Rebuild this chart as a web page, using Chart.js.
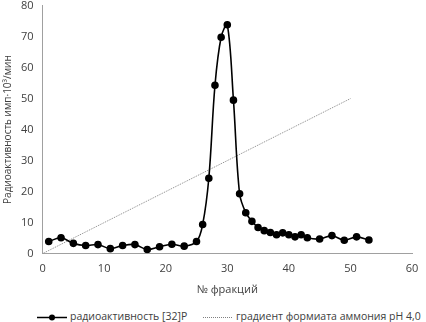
<!DOCTYPE html>
<html>
<head>
<meta charset="utf-8">
<script src="https://cdn.jsdelivr.net/npm/chart.js@4.4.1/dist/chart.umd.min.js"></script>
<style>
  body { margin: 0; background: #fff; }
  #wrap { position: relative; width: 426px; height: 322px; overflow: hidden; }
  #chart { position: absolute; left: 0; top: -6px; }
  .legend { position: absolute; top: 309px; font: 10.5px "Open Sans", sans-serif; color: #404040; white-space: nowrap; }
  .legend .sym { display: inline-block; width: 30px; height: 10px; vertical-align: middle; margin-right: 3px; }
  .legend .sym canvas { display: block; }
</style>
</head>
<body>
<div id="wrap">
  <canvas id="chart" width="426" height="306"></canvas>
  <div class="legend" style="left:37px"><span class="sym" id="sym1"></span>радиоактивность [32]P</div>
  <div class="legend" style="left:203px"><span class="sym" id="sym2"></span>градиент формиата аммония pH 4,0</div>
</div>
<script>
// fraction numbers and radioactivity (imp*10^3/min)
const fractions = [1, 3, 5, 7, 9, 11, 13, 15, 17, 19, 21, 23, 25, 26, 27, 28, 29, 30, 31, 32, 33, 34, 35, 36, 37, 38, 39, 40, 41, 42, 43, 45, 47, 49, 51, 53];
const activity = [3.9, 5.1, 3.3, 2.6, 2.9, 1.6, 2.6, 2.9, 1.3, 2.2, 3.0, 2.4, 3.9, 9.4, 24.3, 54.3, 69.8, 73.8, 49.5, 19.3, 13.2, 10.4, 8.4, 7.4, 6.8, 6.1, 6.7, 6.1, 5.4, 6.1, 5.1, 4.7, 5.8, 4.3, 5.4, 4.4];

// ammonium formate gradient, straight line
const gradientX = [0, 50];
const gradientY = [0, 50];

const xTicks = [0, 10, 20, 30, 40, 50, 60];
const yTicks = [0, 10, 20, 30, 40, 50, 60, 70, 80];

const labels = ["радиоактивность [32]P", "градиент формиата аммония pH 4,0"];

const font = { family: "'Open Sans', sans-serif", size: 11 };
const textColor = "#404040";
const axisColor = "#a0a0a0";

function legendSym(id, dashed, withPoint) {
  const el = document.getElementById(id);
  const c = document.createElement("canvas");
  c.width = 30; c.height = 10;
  const g = c.getContext("2d");
  g.strokeStyle = dashed ? "#808080" : "#000";
  g.lineWidth = dashed ? 1 : 1.5;
  if (dashed) g.setLineDash([1, 1]);
  g.beginPath(); g.moveTo(0, 5.5); g.lineTo(30, 5.5); g.stroke();
  if (withPoint) { g.fillStyle = "#000"; g.beginPath(); g.arc(15, 5.5, 3, 0, Math.PI * 2); g.fill(); }
  el.appendChild(c);
}
legendSym("sym1", false, true);
legendSym("sym2", true, false);

new Chart(document.getElementById("chart").getContext("2d"), {
  type: "scatter",
  data: {
    datasets: [
      {
        label: labels[0],
        data: fractions.map((x, i) => ({ x: x, y: activity[i] })),
        showLine: true,
        borderColor: "#000",
        backgroundColor: "#000",
        borderWidth: 1.6,
        pointRadius: 3,
        tension: 0.35,
      },
      {
        label: labels[1],
        data: gradientX.map((x, i) => ({ x: x, y: gradientY[i] })),
        showLine: true,
        borderColor: "#888",
        borderWidth: 1,
        borderDash: [1, 1],
        pointRadius: 0,
      },
    ],
  },
  options: {
    responsive: false,
    animation: false,
    layout: { padding: { top: 2, right: 14, left: 0, bottom: 0 } },
    plugins: { legend: { display: false }, tooltip: { enabled: false } },
    scales: {
      x: {
        type: "linear",
        min: 0, max: 60,
        afterBuildTicks: (a) => { a.ticks = xTicks.map((v) => ({ value: v })); },
        grid: { display: false, drawTicks: true, tickLength: 4, color: axisColor },
        border: { color: axisColor },
        ticks: { font: font, color: textColor, padding: 5 },
        title: { display: true, text: "№ фракций", font: font, color: textColor, padding: { top: 2 } },
      },
      y: {
        min: 0, max: 80,
        afterBuildTicks: (a) => { a.ticks = yTicks.map((v) => ({ value: v })); },
        grid: { display: false, tickLength: 4, color: axisColor },
        border: { color: axisColor },
        ticks: { font: font, color: textColor, padding: 5 },
        title: { display: true, text: "Радиоактивность имп·10³/мин", font: { family: font.family, size: 10 }, color: textColor, padding: 2 },
      },
    },
  },
});
</script>
</body>
</html>
